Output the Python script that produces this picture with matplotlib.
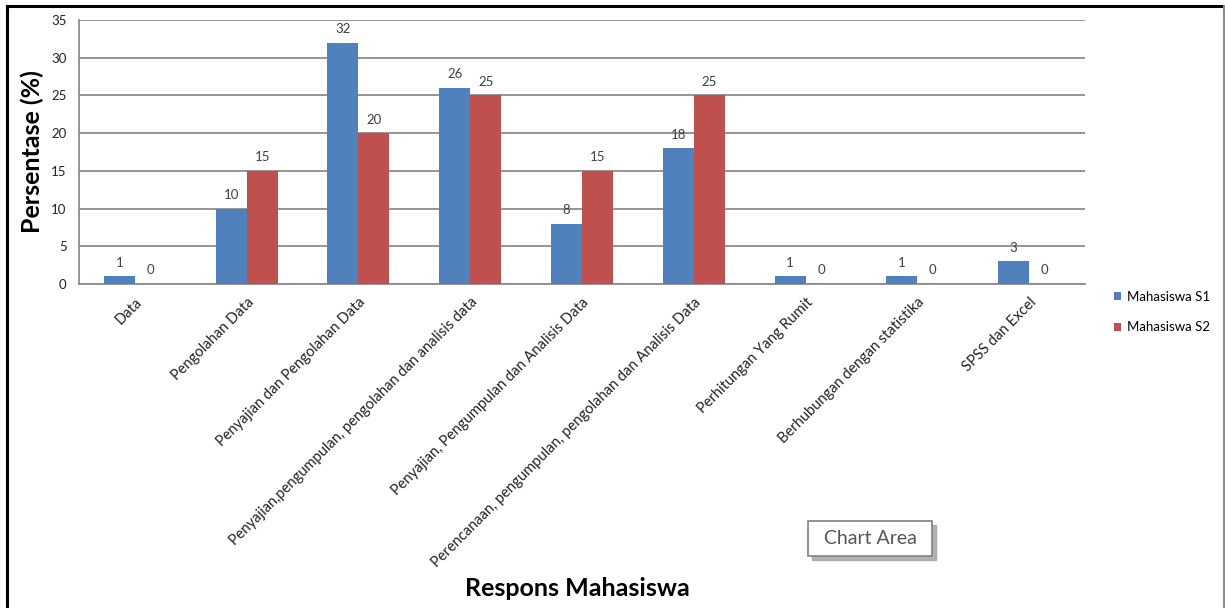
import matplotlib.pyplot as plt
import numpy as np
from matplotlib.lines import Line2D
from matplotlib.patches import Rectangle

categories = ['Data', 'Pengolahan Data', 'Penyajian dan Pengolahan Data',
              'Penyajian,pengumpulan, pengolahan dan analisis data',
              'Penyajian, Pengumpulan dan Analisis Data',
              'Perencanaan, pengumpulan, pengolahan dan Analisis Data',
              'Perhitungan Yang Rumit', 'Berhubungan dengan statistika',
              'SPSS dan Excel']
s1 = [1, 10, 32, 26, 8, 18, 1, 1, 3]
s2 = [0, 15, 20, 25, 15, 25, 0, 0, 0]
series_names = ['Mahasiswa S1', 'Mahasiswa S2']

plt.rcParams['font.family'] = ['Lato', 'DejaVu Sans']

W, H = 1225, 608
fig = plt.figure(figsize=(W / 100, H / 100), dpi=100)
ax = fig.add_axes([79 / W, 1 - 284 / H, (1085 - 79) / W, (284 - 20) / H])

x = np.arange(len(categories))
w = 0.277
b1 = ax.bar(x - w / 2, s1, w, color='#4F81BD', label=series_names[0], zorder=3)
b2 = ax.bar(x + w / 2, s2, w, color='#C0504D', label=series_names[1], zorder=3)

for bars, vals in ((b1, s1), (b2, s2)):
    for r, v in zip(bars, vals):
        ax.annotate(str(v), (r.get_x() + r.get_width() / 2, v),
                    xytext=(0, 5.5), textcoords='offset points',
                    ha='center', va='bottom', fontsize=9.5, color='#404040')

ax.set_xlim(-0.5, len(categories) - 0.5)
ax.set_ylim(0, 35)
ax.set_yticks(range(0, 36, 5))
ax.yaxis.grid(True, color='#8c8c8c', lw=1.3, zorder=0)
ax.set_axisbelow(True)
for s in ['top', 'right']:
    ax.spines[s].set_visible(False)
ax.spines['left'].set_color('#8c8c8c')
ax.spines['bottom'].set_color('#8c8c8c')
ax.spines['left'].set_linewidth(1.3)
ax.spines['bottom'].set_linewidth(1.3)
ax.tick_params(axis='both', length=0, labelsize=9.5, labelcolor='#222222')
ax.tick_params(axis='y', pad=9)
ax.tick_params(axis='x', pad=8, labelsize=10.5)
ax.set_xticks(x)
ax.set_xticklabels(categories, rotation=45, ha='right', rotation_mode='anchor')

fig.text(32 / W, 1 - 152 / H, 'Persentase (%)', rotation=90, fontsize=18,
         fontweight='bold', ha='center', va='center')
fig.text(577 / W, 1 - 589 / H, 'Respons Mahasiswa', fontsize=18,
         fontweight='bold', ha='center', va='center')

ax.legend(loc='center left', bbox_to_anchor=(1102 / W, 1 - 312 / H),
          bbox_transform=fig.transFigure, frameon=False, fontsize=9.5,
          handlelength=0.55, handleheight=0.55, handletextpad=0.45,
          labelspacing=1.4)

# outer frame
fig.add_artist(Line2D([7 / W, 1222 / W], [1 - 6 / H, 1 - 6 / H], color='black', lw=2.2))
fig.add_artist(Line2D([7 / W, 7 / W], [0, 1 - 6 / H], color='black', lw=2.2))
fig.add_artist(Line2D([1224 / W, 1224 / W], [0, 1 - 6 / H], color='#8c8c8c', lw=1.5))

# "Chart Area" tip box with shadow
fig.add_artist(Rectangle((812 / W, 1 - 560 / H), 124 / W, 35 / H,
                         transform=fig.transFigure, color='#a0a0a0', alpha=0.8))
fig.add_artist(Rectangle((808 / W, 1 - 556 / H), 124 / W, 35 / H,
                         transform=fig.transFigure, facecolor='white',
                         edgecolor='#808080', lw=1.2))
fig.text(870 / W, 1 - 538 / H, 'Chart Area', fontsize=14, color='#555555',
         ha='center', va='center')

fig.savefig('out.png', dpi=100)
